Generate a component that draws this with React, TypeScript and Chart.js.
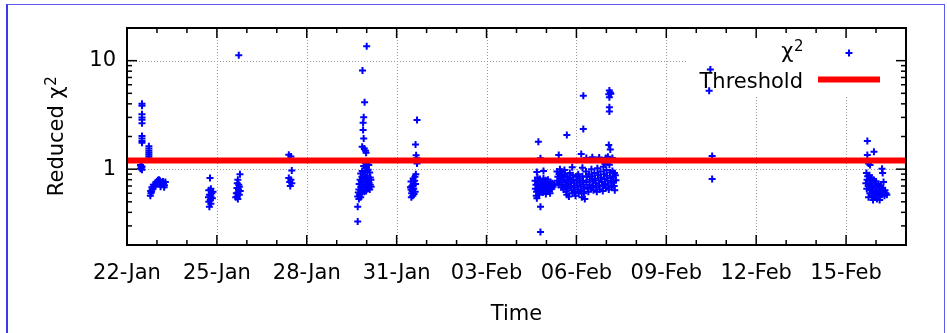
import React, { useEffect, useRef } from "react";
import { Chart, registerables } from "chart.js";

Chart.register(...registerables);

const FONT = "'DejaVu Sans', sans-serif";

// X axis: days after 22-Jan
const xMin = 0;
const xMax = 26;
const xTickDays = [0, 3, 6, 9, 12, 15, 18, 21, 24];
const xTickLabels = ["22-Jan", "25-Jan", "28-Jan", "31-Jan", "03-Feb", "06-Feb", "09-Feb", "12-Feb", "15-Feb"];
const xMinorDays = [1, 2, 4, 5, 7, 8, 10, 11, 13, 14, 16, 17, 19, 20, 22, 23, 25];

// Y axis (log)
const yMin = 0.2;
const yMax = 20;
const yTickValues = [1, 10];
const yTickLabels = ["1", "10"];
const yMinorValues = [0.3, 0.4, 0.5, 0.6, 0.7, 0.8, 0.9, 2, 3, 4, 5, 6, 7, 8, 9];

// Threshold
const thresholdDays = [0, 26];
const thresholdValues = [1.2, 1.2];

// Reduced chi^2 runs
const runADays = [0.5, 0.5, 0.5, 0.5, 0.5, 0.5, 0.5, 0.5, 0.5, 0.5, 0.45, 0.47, 0.5, 0.48, 0.45, 0.5, 0.73, 0.73, 0.73, 0.73, 0.73, 0.73, 0.78, 0.8, 0.79, 0.82, 0.84, 0.83, 0.87, 0.9, 0.88, 0.93, 0.97, 1.0, 1.03, 1.07, 1.1, 1.08, 1.13, 1.12, 1.2, 1.22, 1.25, 1.24, 1.28];
const runAValues = [4.0, 3.85, 3.2, 3.0, 2.85, 2.65, 2.02, 1.92, 1.82, 1.75, 1.09, 1.07, 1.05, 1.03, 1.01, 0.99, 1.63, 1.55, 1.48, 1.42, 1.36, 1.3, 0.57, 0.6, 0.63, 0.62, 0.65, 0.68, 0.66, 0.69, 0.72, 0.71, 0.74, 0.77, 0.79, 0.8, 0.78, 0.75, 0.72, 0.69, 0.77, 0.74, 0.71, 0.68, 0.76];

const runBDays = [2.77, 2.8, 2.73, 2.87, 2.83, 2.75, 2.8, 2.72, 2.85, 2.78, 2.73, 2.8, 2.75];
const runBValues = [0.83, 0.66, 0.64, 0.62, 0.6, 0.58, 0.56, 0.55, 0.54, 0.52, 0.5, 0.48, 0.45];

const runCDays = [3.73, 3.77, 3.7, 3.68, 3.73, 3.75, 3.67, 3.72, 3.78, 3.7, 3.65, 3.75, 3.68, 3.63, 3.7];
const runCValues = [11.2, 0.9, 0.8, 0.74, 0.72, 0.69, 0.67, 0.65, 0.63, 0.61, 0.6, 0.58, 0.56, 0.55, 0.53];

const runDDays = [5.4, 5.47, 5.5, 5.4, 5.47, 5.43, 5.5, 5.45];
const runDValues = [1.36, 1.31, 0.97, 0.83, 0.8, 0.76, 0.74, 0.7];

const runEDays = [8.0, 7.86, 7.93, 7.9, 7.88, 7.88, 7.9, 7.85, 7.92, 7.96, 7.98,
  7.96, 8.03, 7.9, 8.07, 7.99, 7.85, 7.95, 8.05, 7.8, 7.92, 8.1, 8.02, 7.84, 7.97, 8.12, 7.78, 7.9, 8.04, 8.14, 7.82,
  7.95, 8.08, 7.75, 7.88, 8.0, 8.12, 7.8, 7.93, 8.05, 8.15, 7.74, 7.86, 7.98, 8.1, 7.72, 7.82, 7.92, 7.76, 7.7, 7.8,
  7.74, 7.7, 7.7];
const runEValues = [13.6, 8.1, 4.14, 3.01, 2.68, 2.3, 1.92, 1.61, 1.55, 1.48, 1.42,
  1.14, 1.11, 1.07, 1.09, 1.03, 0.96, 0.94, 0.99, 0.91, 0.89, 0.93, 0.87, 0.85, 0.83, 0.84, 0.8, 0.81, 0.79, 0.8, 0.77,
  0.76, 0.75, 0.73, 0.72, 0.71, 0.72, 0.69, 0.68, 0.67, 0.69, 0.65, 0.64, 0.63, 0.65, 0.61, 0.6, 0.62, 0.58, 0.56, 0.55,
  0.53, 0.45, 0.33];

const runFDays = [9.68, 9.63, 9.65, 9.67, 9.68, 9.64, 9.61, 9.55, 9.6, 9.48, 9.63, 9.51, 9.57, 9.48, 9.62, 9.5, 9.54, 9.49, 9.58, 9.52, 9.46, 9.56];
const runFValues = [2.84, 1.69, 1.34, 1.26, 1.13, 0.9, 0.85, 0.82, 0.78, 0.77, 0.73, 0.7, 0.66, 0.65, 0.62, 0.6, 0.57, 0.55, 0.59, 0.63, 0.68, 0.72];

const runG1Days = [13.73, 13.8, 13.68, 13.9, 13.66, 13.68, 13.8, 13.8,
  13.62, 13.65, 13.63, 13.67, 13.7, 13.72, 13.74, 13.71, 13.76, 13.78,
  13.8, 13.82, 13.79, 13.85, 13.87, 13.84, 13.88, 13.9, 13.93, 13.95,
  13.92, 13.97, 14.0, 14.02, 14.0, 14.05, 14.07, 14.1, 14.08, 14.13,
  14.15, 14.18, 14.2, 14.22, 14.25, 13.75, 13.98, 14.12];
const runG1Values = [1.79, 1.26, 0.94, 0.96, 0.57, 0.54, 0.45, 0.263,
  0.78, 0.72, 0.66, 0.62, 0.84, 0.76, 0.7, 0.65, 0.6, 0.81,
  0.74, 0.68, 0.63, 0.77, 0.71, 0.66, 0.61, 0.82, 0.75, 0.69,
  0.64, 0.79, 0.73, 0.67, 0.62, 0.8, 0.72, 0.68, 0.63, 0.76,
  0.7, 0.66, 0.74, 0.69, 0.72, 0.58, 0.59, 0.6];

const runG2Days = [14.68, 14.41, 14.86, 15.23, 15.23, 15.16, 15.2,
  14.35, 14.38, 14.36, 14.4, 14.42, 14.45, 14.47, 14.44, 14.5, 14.48,
  14.52, 14.55, 14.53, 14.57, 14.6, 14.62, 14.58, 14.64, 14.63, 14.66,
  14.68, 14.7, 14.72, 14.74, 14.71, 14.75, 14.78, 14.8, 14.82, 14.8,
  14.84, 14.87, 14.88, 14.9, 14.93, 14.92, 14.95, 14.97, 15.0, 15.02,
  15.03, 15.05, 15.08, 15.06, 15.1, 15.12, 15.14, 15.16, 15.18, 15.2,
  15.22, 15.24, 15.26, 15.25, 15.28];
const runG2Values = [2.07, 1.35, 1.04, 4.74, 2.35, 1.38, 1.03,
  0.95, 0.85, 0.78, 0.72, 0.9, 1.0, 0.82, 0.75, 0.68, 0.94,
  0.87, 0.79, 0.72, 0.65, 0.98, 0.9, 0.84, 0.76, 0.7, 0.62,
  0.58, 0.86, 0.8, 0.73, 0.67, 0.56, 0.92, 0.83, 0.77, 0.7,
  0.64, 0.6, 0.88, 0.8, 0.74, 0.68, 0.62, 0.57, 0.85, 0.78,
  0.71, 0.65, 0.6, 0.9, 0.82, 0.75, 0.69, 0.63, 0.55, 0.86,
  0.78, 0.72, 0.66, 0.6, 0.53];

const runG3Days = [16.1, 16.13, 16.08, 16.15, 16.1, 16.1, 16.1, 16.08, 16.13, 15.33, 15.53, 15.76, 15.98, 16.05, 16.2,
  15.32, 15.35, 15.33, 15.37, 15.4, 15.42, 15.45, 15.44, 15.48, 15.5,
  15.52, 15.55, 15.53, 15.57, 15.6, 15.62, 15.64, 15.66, 15.68, 15.7,
  15.72, 15.74, 15.76, 15.78, 15.8, 15.82, 15.85, 15.87, 15.88, 15.9,
  15.92, 15.94, 15.96, 15.98, 16.0, 16.02, 16.04, 16.06, 16.08, 16.1,
  16.12, 16.14, 16.16, 16.18, 16.2, 16.22, 16.24, 16.26, 16.28, 16.3,
  16.32, 16.27, 16.05, 15.95];
const runG3Values = [5.3, 5.1, 4.9, 4.95, 4.6, 3.72, 3.4, 1.67, 1.52, 1.27, 1.29, 1.28, 1.27, 1.3, 1.27,
  0.95, 0.85, 0.76, 0.68, 0.62, 0.9, 0.8, 0.72, 0.66, 1.0,
  0.86, 0.77, 0.7, 0.64, 0.92, 0.82, 0.74, 0.68, 0.62, 1.02,
  0.88, 0.79, 0.71, 0.65, 0.95, 0.84, 0.76, 0.7, 0.63, 1.05,
  0.9, 0.81, 0.73, 0.67, 0.98, 0.87, 0.78, 0.71, 0.65, 1.1,
  0.93, 0.83, 0.75, 0.68, 0.96, 0.85, 0.77, 0.7, 0.64, 0.88,
  0.79, 0.92, 1.15, 1.12];

const runHDays = [19.47, 19.43, 19.53, 19.53];
const runHValues = [8.27, 5.27, 1.32, 0.81];

const runIDays = [24.71, 24.93, 24.71, 24.75, 24.8, 25.2, 25.22, 25.25,
  24.68, 24.72, 24.7, 24.66, 24.74, 24.69, 24.78, 24.8, 24.77, 24.82,
  24.79, 24.85, 24.87, 24.84, 24.89, 24.86, 24.92, 24.95, 24.9, 24.97,
  24.94, 25.0, 25.02, 24.99, 25.05, 25.03, 25.08, 25.1, 25.07, 25.13,
  25.15, 25.17, 25.19, 25.22, 25.25, 25.28, 25.3, 25.33, 25.36, 24.75,
  24.9, 25.12];
const runIValues = [1.82, 1.45, 1.35, 1.13, 1.09, 1.01, 0.92, 0.76,
  0.92, 0.86, 0.8, 0.74, 0.7, 0.66, 0.88, 0.78, 0.72, 0.64,
  0.6, 0.83, 0.75, 0.69, 0.62, 0.57, 0.8, 0.71, 0.66, 0.6,
  0.55, 0.77, 0.68, 0.63, 0.58, 0.53, 0.73, 0.65, 0.6, 0.56,
  0.7, 0.63, 0.58, 0.67, 0.61, 0.57, 0.64, 0.6, 0.58, 0.55,
  0.52, 0.52];

const runs: [number[], number[]][] = [
  [runADays, runAValues], [runBDays, runBValues], [runCDays, runCValues], [runDDays, runDValues],
  [runEDays, runEValues], [runFDays, runFValues], [runG1Days, runG1Values], [runG2Days, runG2Values],
  [runG3Days, runG3Values], [runHDays, runHValues], [runIDays, runIValues],
];

function zip(d: number[], v: number[]) {
  const n = Math.min(d.length, v.length);
  const out: { x: number; y: number }[] = [];
  for (let i = 0; i < n; i++) out.push({ x: d[i], y: v[i] });
  return out;
}

const chiPoints = runs.flatMap(([d, v]) => zip(d, v));
const thresholdPoints = zip(thresholdDays, thresholdValues);

function drawSup(ctx: CanvasRenderingContext2D, main: string, sup: string, x: number, y: number, align: "center" | "right") {
  ctx.font = `21px ${FONT}`;
  const w1 = ctx.measureText(main).width;
  ctx.font = `15px ${FONT}`;
  const w2 = ctx.measureText(sup).width;
  const total = w1 + w2;
  const start = align === "center" ? x - total / 2 : x - total;
  ctx.textAlign = "left";
  ctx.textBaseline = "alphabetic";
  ctx.font = `21px ${FONT}`;
  ctx.fillText(main, start, y);
  ctx.font = `15px ${FONT}`;
  ctx.fillText(sup, start + w1 + 0.5, y - 7);
}

const decor = {
  id: "decor",
  beforeDatasetsDraw(chart: any) {
    const { ctx, chartArea: a, scales } = chart;
    const xs = scales.x;
    const ys = scales.y;
    ctx.save();
    ctx.strokeStyle = "#9a9a9a";
    ctx.lineWidth = 1;
    ctx.setLineDash([1, 2]);
    xTickDays.forEach((d) => {
      if (d === xMin) return;
      const px = Math.round(xs.getPixelForValue(d)) + 0.5;
      ctx.beginPath();
      ctx.moveTo(px, a.top);
      ctx.lineTo(px, a.bottom);
      ctx.stroke();
    });
    yTickValues.forEach((v) => {
      const py = Math.round(ys.getPixelForValue(v)) + 0.5;
      ctx.beginPath();
      ctx.moveTo(a.left, py);
      ctx.lineTo(a.right, py);
      ctx.stroke();
    });
    ctx.setLineDash([]);
    // key background
    ctx.fillStyle = "#ffffff";
    ctx.fillRect(a.right - 219, a.top + 1, 218, 67);
    ctx.restore();
  },
  afterDatasetsDraw(chart: any) {
    const { ctx, chartArea: a, scales } = chart;
    const xs = scales.x;
    const ys = scales.y;
    ctx.save();
    ctx.strokeStyle = "#000";
    ctx.lineWidth = 1.5;
    const seg = (x1: number, y1: number, x2: number, y2: number) => {
      ctx.beginPath();
      ctx.moveTo(x1, y1);
      ctx.lineTo(x2, y2);
      ctx.stroke();
    };
    xTickDays.forEach((d) => {
      const px = xs.getPixelForValue(d);
      seg(px, a.bottom, px, a.bottom - 10);
      seg(px, a.top, px, a.top + 10);
    });
    xMinorDays.forEach((d) => {
      const px = xs.getPixelForValue(d);
      seg(px, a.bottom, px, a.bottom - 5);
      seg(px, a.top, px, a.top + 5);
    });
    yTickValues.forEach((v) => {
      const py = ys.getPixelForValue(v);
      seg(a.left, py, a.left + 10, py);
      seg(a.right, py, a.right - 10, py);
    });
    yMinorValues.forEach((v) => {
      const py = ys.getPixelForValue(v);
      seg(a.left, py, a.left + 5, py);
      seg(a.right, py, a.right - 5, py);
    });
    // frame
    ctx.lineWidth = 2;
    ctx.strokeRect(a.left, a.top, a.right - a.left, a.bottom - a.top);

    // axis titles
    ctx.fillStyle = "#000";
    ctx.font = `21px ${FONT}`;
    ctx.textAlign = "center";
    ctx.textBaseline = "alphabetic";
    ctx.fillText("Time", (a.left + a.right) / 2, 320);

    ctx.save();
    ctx.translate(63, (a.top + a.bottom) / 2);
    ctx.rotate(-Math.PI / 2);
    drawSup(ctx, "Reduced \u03C7", "2", 0, 0, "center");
    ctx.restore();

    // legend
    const textRight = a.right - 103;
    drawSup(ctx, "\u03C7", "2", textRight, a.top + 30, "right");
    ctx.font = `21px ${FONT}`;
    ctx.textAlign = "right";
    ctx.fillText("Threshold", textRight, a.top + 60);
    // chi sample point
    const sx = a.right - 57;
    const sy = a.top + 25;
    ctx.strokeStyle = "#0000ff";
    ctx.lineWidth = 2;
    seg(sx - 3.5, sy, sx + 3.5, sy);
    seg(sx, sy - 3.5, sx, sy + 3.5);
    // threshold sample line
    ctx.strokeStyle = "#ff0000";
    ctx.lineWidth = 6;
    seg(a.right - 88, a.top + 51.5, a.right - 26, a.top + 51.5);
    ctx.restore();
  },
};

export default function App() {
  const ref = useRef<HTMLCanvasElement>(null);
  useEffect(() => {
    const canvas = ref.current;
    if (!canvas) return;
    const chart = new Chart(canvas, {
      type: "scatter",
      data: {
        datasets: [
          {
            label: "Threshold",
            data: thresholdPoints,
            showLine: true,
            borderColor: "#ff0000",
            backgroundColor: "#ff0000",
            borderWidth: 6,
            pointRadius: 0,
            order: 0,
          },
          {
            label: "\u03C7\u00B2",
            data: chiPoints,
            showLine: false,
            pointStyle: "cross",
            pointRadius: 3.5,
            pointBorderWidth: 2,
            borderColor: "#0000ff",
            backgroundColor: "#0000ff",
            pointBorderColor: "#0000ff",
            order: 1,
          },
        ],
      },
      options: {
        responsive: false,
        animation: false,
        devicePixelRatio: 1,
        events: [],
        layout: { padding: { left: 0, right: 41, top: 28, bottom: 0 } },
        plugins: { legend: { display: false }, tooltip: { enabled: false } },
        scales: {
          x: {
            type: "linear",
            position: "bottom",
            min: xMin,
            max: xMax,
            grid: { display: false, drawTicks: false },
            border: { display: false },
            afterBuildTicks: (s: any) => {
              s.ticks = xTickDays.map((v) => ({ value: v }));
            },
            afterFit: (s: any) => {
              s.height = 88;
            },
            ticks: {
              autoSkip: false,
              maxRotation: 0,
              minRotation: 0,
              padding: 16,
              color: "#000",
              font: { family: FONT, size: 21 },
              callback: (v: any) => {
                const i = xTickDays.indexOf(Number(v));
                return i >= 0 ? xTickLabels[i] : "";
              },
            },
          },
          y: {
            type: "logarithmic",
            position: "left",
            min: yMin,
            max: yMax,
            grid: { display: false, drawTicks: false },
            border: { display: false },
            afterBuildTicks: (s: any) => {
              s.ticks = yTickValues.map((v) => ({ value: v }));
            },
            afterFit: (s: any) => {
              s.width = 127;
            },
            ticks: {
              autoSkip: false,
              padding: 11,
              color: "#000",
              font: { family: FONT, size: 21 },
              callback: (v: any) => {
                const i = yTickValues.indexOf(Number(v));
                return i >= 0 ? yTickLabels[i] : "";
              },
            },
          },
        },
      },
      plugins: [decor],
    } as any);
    return () => chart.destroy();
  }, []);

  return (
    <div style={{ position: "absolute", left: 0, top: 0, width: 947, height: 333, background: "#fff", overflow: "hidden" }}>
      <div
        style={{
          position: "absolute",
          left: 6,
          top: 4,
          width: 939,
          height: 345,
          boxSizing: "border-box",
          borderLeft: "2px solid #3a3aea",
          borderTop: "1px solid #5a5aee",
          borderRight: "1px solid #5a5aee",
        }}
      />
      <canvas ref={ref} width={947} height={333} style={{ position: "absolute", left: 0, top: 0, width: 947, height: 333 }} />
    </div>
  );
}
